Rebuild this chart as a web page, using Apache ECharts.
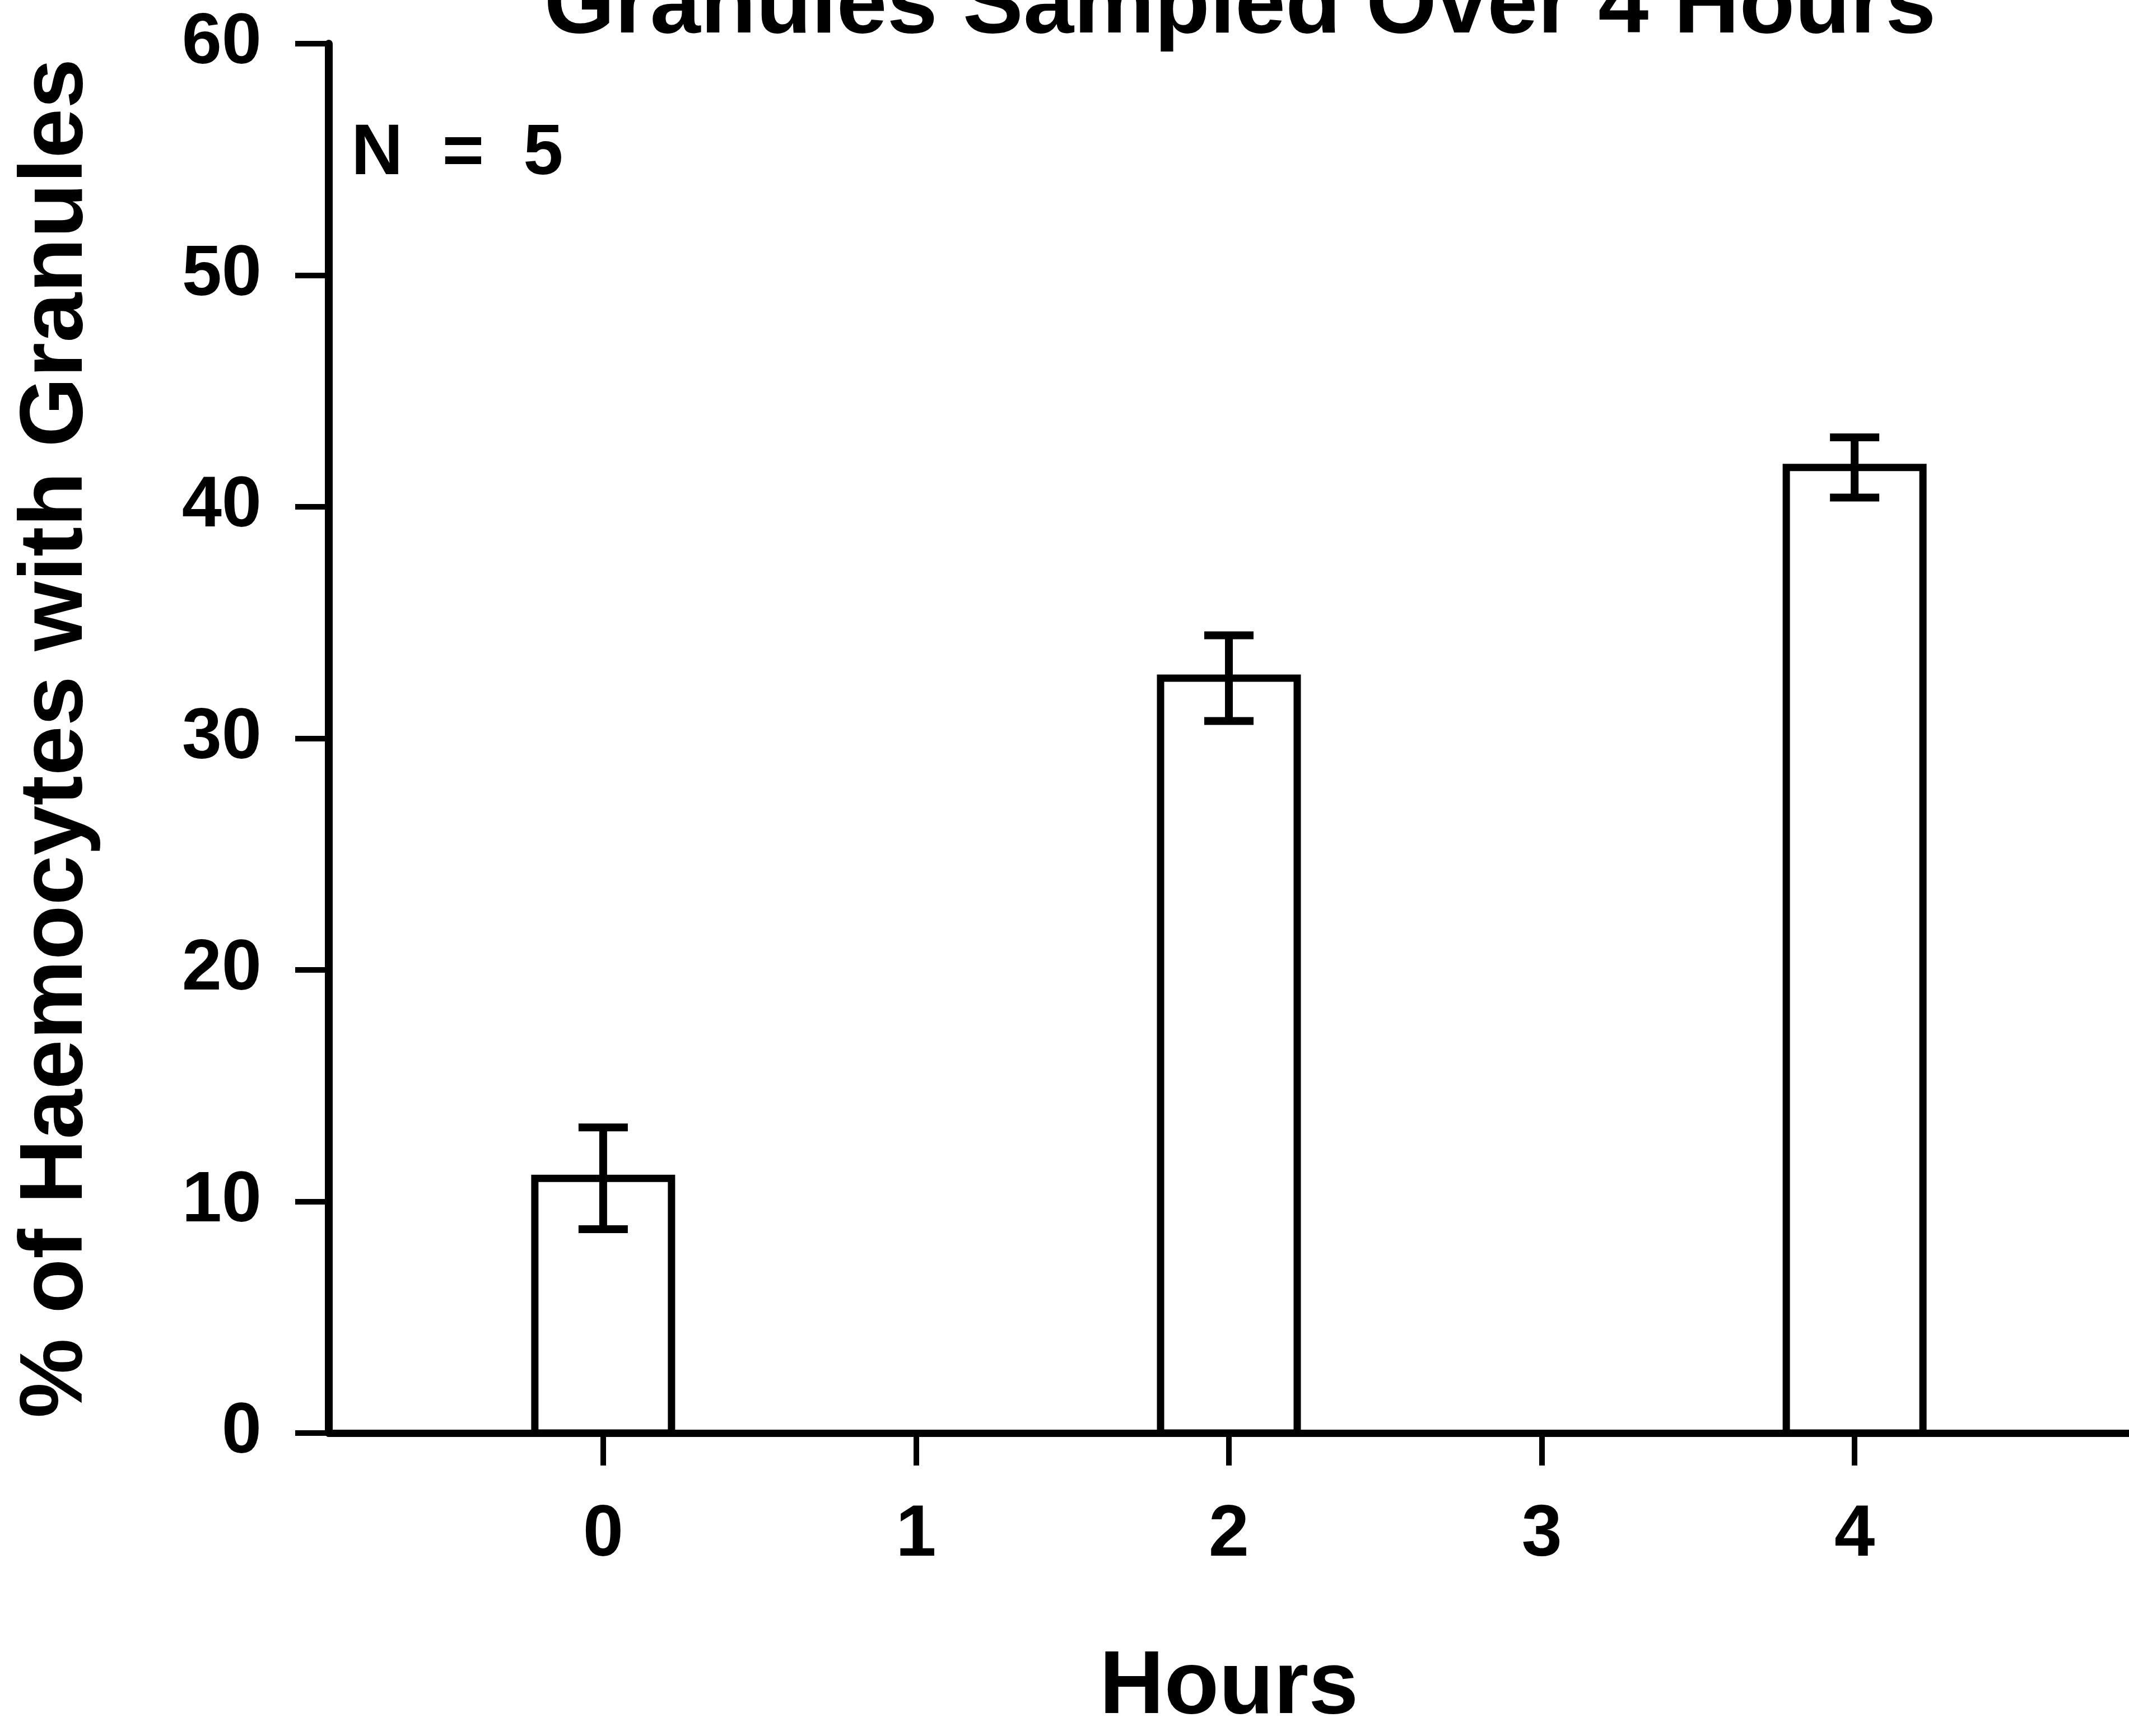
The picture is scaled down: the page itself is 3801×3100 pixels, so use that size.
<!DOCTYPE html>
<html>
<head>
<meta charset="utf-8">
<title>Granules Sampled Over 4 Hours</title>
<script src="https://cdn.jsdelivr.net/npm/echarts@6/dist/echarts.min.js"></script>
<style>
  html, body { margin: 0; padding: 0; background: #fff; }
  #chart { width: 3801px; height: 3100px; }
</style>
</head>
<body>
<div id="chart"></div>
<script>
// data
const hours = [0, 2, 4]
const meanPct = [11.0, 32.6, 41.7]
const errPct = [2.2, 1.85, 1.3]
const hourTicks = [0, 1, 2, 3, 4]
const sampleNote = '{n|N}{e|=}{v|5}'

const FONT = '"Liberation Sans", Arial, Helvetica, sans-serif'
const BAR_W = 244

const chart = echarts.init(document.getElementById('chart'), null, { renderer: 'canvas' })

chart.setOption({
  backgroundColor: '#fff',
  animation: false,
  title: {
    text: 'Granules Sampled Over 4 Hours',
    left: 2209,
    top: -73,
    textAlign: 'center',
    textStyle: { fontFamily: FONT, fontSize: 162, fontWeight: 'bold', color: '#000' }
  },
  grid: { left: 587, right: 0, top: 78, bottom: 540 },
  xAxis: {
    type: 'value',
    min: -0.877,
    max: 4.877,
    name: 'Hours',
    nameLocation: 'middle',
    nameGap: 376,
    nameTextStyle: { fontFamily: FONT, fontSize: 160, fontWeight: 'bold', color: '#000' },
    splitLine: { show: false },
    axisLine: { lineStyle: { color: '#000', width: 13 } },
    axisTick: { customValues: hourTicks, length: 58, lineStyle: { color: '#000', width: 10 } },
    axisLabel: {
      customValues: hourTicks,
      margin: 118,
      fontFamily: FONT,
      fontSize: 130,
      fontWeight: 'bold',
      color: '#000'
    }
  },
  yAxis: {
    type: 'value',
    min: 0,
    max: 60,
    interval: 10,
    name: '% of Haemocytes with Granules',
    nameLocation: 'middle',
    nameGap: 405,
    nameTextStyle: { fontFamily: FONT, fontSize: 160, fontWeight: 'bold', color: '#000' },
    splitLine: { show: false },
    axisLine: { show: true, onZero: false, lineStyle: { color: '#000', width: 14 } },
    axisTick: { show: true, length: 60, lineStyle: { color: '#000', width: 10 } },
    axisLabel: { margin: 120, fontFamily: FONT, fontSize: 128, fontWeight: 'bold', color: '#000' }
  },
  graphic: [
    {
      type: 'text',
      left: 627,
      top: 212,
      style: {
        text: sampleNote,
        font: 'bold 128px ' + FONT,
        fill: '#000',
        rich: {
          n: { font: 'bold 128px ' + FONT, padding: [0, 70, 0, 0] },
          e: { font: 'bold 128px ' + FONT, padding: [0, 70, 0, 0] },
          v: { font: 'bold 128px ' + FONT }
        }
      }
    }
  ],
  series: [
    {
      // open bars
      type: 'custom',
      data: hours.map((h, i) => [h, meanPct[i]]),
      z: 3,
      renderItem: function (params, api) {
        const top = api.coord([api.value(0), api.value(1)])
        const base = api.coord([api.value(0), 0])
        return {
          type: 'rect',
          shape: { x: top[0] - BAR_W / 2, y: top[1], width: BAR_W, height: base[1] - top[1] },
          style: { fill: '#fff', stroke: '#000', lineWidth: 13 }
        }
      }
    },
    {
      // error bars
      type: 'custom',
      data: hours.map((h, i) => [h, meanPct[i], errPct[i]]),
      z: 4,
      renderItem: function (params, api) {
        const x = api.value(0)
        const m = api.value(1)
        const e = api.value(2)
        const top = api.coord([x, m + e])
        const bot = api.coord([x, m - e])
        const half = 44
        const style = { stroke: '#000', lineWidth: 14, lineCap: 'butt' }
        return {
          type: 'group',
          children: [
            { type: 'line', shape: { x1: top[0], y1: top[1], x2: bot[0], y2: bot[1] }, style: style },
            { type: 'line', shape: { x1: top[0] - half, y1: top[1], x2: top[0] + half, y2: top[1] }, style: style },
            { type: 'line', shape: { x1: bot[0] - half, y1: bot[1], x2: bot[0] + half, y2: bot[1] }, style: style }
          ]
        }
      }
    }
  ]
})
</script>
</body>
</html>
